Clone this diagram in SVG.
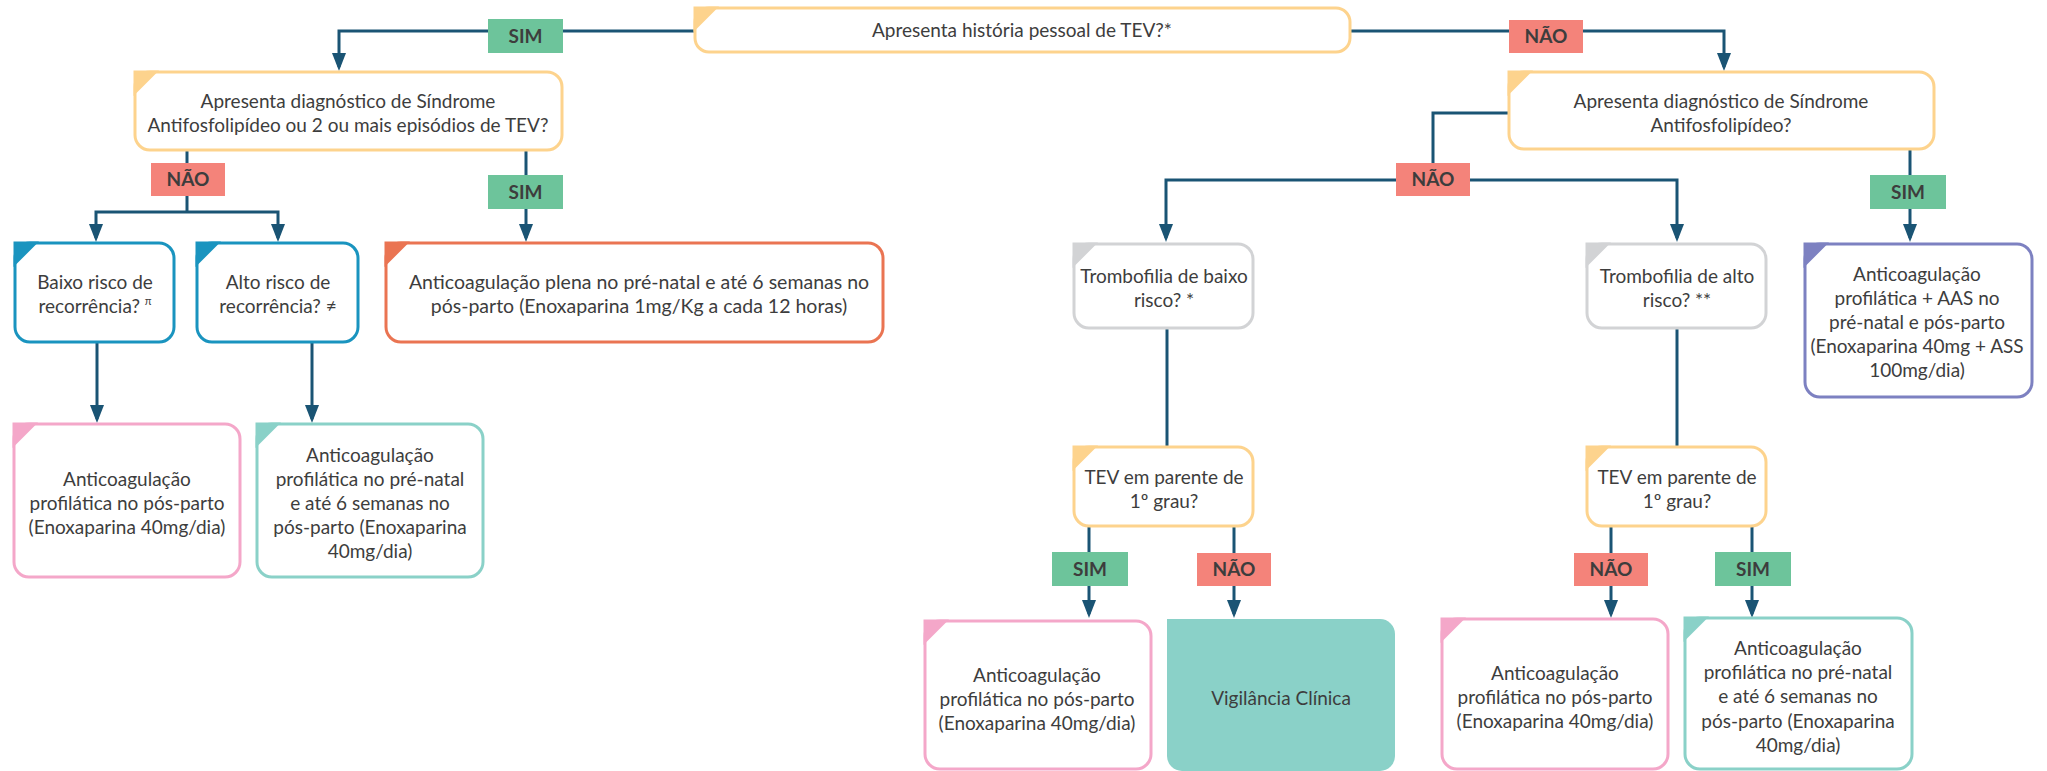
<svg xmlns="http://www.w3.org/2000/svg" width="2047" height="771" viewBox="0 0 2047 771">
<defs>
<style>
.box{fill:#fff;stroke-width:3}
.y{stroke:#FDD38D}.yf{fill:#FDD38D}
.b{stroke:#1A94BF}.bf{fill:#1A94BF}
.o{stroke:#EA7452}.of{fill:#EA7452}
.p{stroke:#F4A7C9}.pf{fill:#F4A7C9}
.t{stroke:#8AD1C8}.tf{fill:#8AD1C8}
.g{stroke:#D2D3D5}.gf{fill:#D2D3D5}
.v{stroke:#7D81C1}.vf{fill:#7D81C1}
text{font-family:Lato,"Open Sans","Liberation Sans",sans-serif;font-size:19px;fill:#3D3D3D;text-anchor:middle}
.lbl text{font-weight:bold;font-size:19px}
.sim{fill:#6DC49B}.nao{fill:#F4837A}
.con{fill:none;stroke:#1A5474;stroke-width:3}
</style>
<marker id="arr" viewBox="0 0 18 14" refX="14" refY="7" markerWidth="18" markerHeight="14" markerUnits="userSpaceOnUse" orient="auto">
<path d="M0,0 L18,7 L0,14 Z" fill="#1A5474"/>
</marker>
</defs>

<g id="connectors">
<path class="con" d="M695,31 H339 V67" marker-end="url(#arr)"/>
<path class="con" d="M1350,31 H1724 V67" marker-end="url(#arr)"/>
<path class="con" d="M187,150 V212"/>
<path class="con" d="M187,212 H96 V238" marker-end="url(#arr)"/>
<path class="con" d="M187,212 H278 V238" marker-end="url(#arr)"/>
<path class="con" d="M526,150 V238" marker-end="url(#arr)"/>
<path class="con" d="M1509,113 H1433 V180"/>
<path class="con" d="M1433,180 H1166 V238" marker-end="url(#arr)"/>
<path class="con" d="M1433,180 H1677 V238" marker-end="url(#arr)"/>
<path class="con" d="M1910,150 V238" marker-end="url(#arr)"/>
<path class="con" d="M97,342 V419" marker-end="url(#arr)"/>
<path class="con" d="M312,342 V419" marker-end="url(#arr)"/>
<path class="con" d="M1167,328 V447"/>
<path class="con" d="M1677,328 V447"/>
<path class="con" d="M1089,526 V614" marker-end="url(#arr)"/>
<path class="con" d="M1234,526 V614" marker-end="url(#arr)"/>
<path class="con" d="M1611,526 V614" marker-end="url(#arr)"/>
<path class="con" d="M1752,526 V614" marker-end="url(#arr)"/>
</g>

<g id="labels" class="lbl">
<rect class="sim" x="488" y="19" width="75" height="34"/><text x="525.5" y="43">SIM</text>
<rect class="nao" x="1509" y="20" width="74" height="33"/><text x="1546" y="43">NÃO</text>
<rect class="nao" x="151" y="163" width="74" height="33"/><text x="188" y="186">NÃO</text>
<rect class="sim" x="488" y="175" width="75" height="34"/><text x="525.5" y="199">SIM</text>
<rect class="nao" x="1396" y="163" width="74" height="33"/><text x="1433" y="186">NÃO</text>
<rect class="sim" x="1870" y="175" width="76" height="34"/><text x="1908" y="199">SIM</text>
<rect class="sim" x="1052" y="552" width="76" height="34"/><text x="1090" y="576">SIM</text>
<rect class="nao" x="1197" y="553" width="74" height="33"/><text x="1234" y="576">NÃO</text>
<rect class="nao" x="1574" y="553" width="74" height="33"/><text x="1611" y="576">NÃO</text>
<rect class="sim" x="1715" y="552" width="76" height="34"/><text x="1753" y="576">SIM</text>
</g>

<g id="n-top">
<rect class="box y" x="695" y="8" width="655" height="44" rx="14"/>
<path class="yf" d="M693.5,6.5 H719 L693.5,32 Z"/>
<text x="1022" y="37">Apresenta história pessoal de TEV?*</text>
</g>

<g id="n-saf-left">
<rect class="box y" x="135" y="72" width="427" height="78" rx="15"/>
<path class="yf" d="M133.5,70.5 H159 L133.5,96 Z"/>
<text x="348" y="108">Apresenta diagnóstico de Síndrome</text>
<text x="348" y="132">Antifosfolipídeo ou 2 ou mais episódios de TEV?</text>
</g>

<g id="n-saf-right">
<rect class="box y" x="1509" y="72" width="425" height="77" rx="15"/>
<path class="yf" d="M1507.5,70.5 H1533 L1507.5,96 Z"/>
<text x="1721" y="108">Apresenta diagnóstico de Síndrome</text>
<text x="1721" y="132">Antifosfolipídeo?</text>
</g>

<g id="n-baixo">
<rect class="box b" x="15" y="243" width="159" height="99" rx="15"/>
<path class="bf" d="M13.5,241.5 H39 L13.5,267 Z"/>
<text x="95" y="289">Baixo risco de</text>
<text x="95" y="313">recorrência? <tspan font-size="11" dy="-8">π</tspan></text>
</g>

<g id="n-alto">
<rect class="box b" x="197" y="243" width="161" height="99" rx="15"/>
<path class="bf" d="M195.5,241.5 H221 L195.5,267 Z"/>
<text x="278" y="289">Alto risco de</text>
<text x="278" y="313">recorrência? ≠</text>
</g>

<g id="n-plena">
<rect class="box o" x="386" y="243" width="497" height="99" rx="15"/>
<path class="of" d="M384.5,241.5 H410 L384.5,267 Z"/>
<text x="639" y="289" style="font-size:19.5px">Anticoagulação plena no pré-natal e até 6 semanas no</text>
<text x="639" y="313" style="font-size:19.5px">pós-parto (Enoxaparina 1mg/Kg a cada 12 horas)</text>
</g>

<g id="n-tromb-baixo">
<rect class="box g" x="1074" y="244" width="179" height="84" rx="15"/>
<path class="gf" d="M1072.5,242.5 H1098 L1072.5,268 Z"/>
<text x="1164" y="283">Trombofilia de baixo</text>
<text x="1164" y="307">risco? *</text>
</g>

<g id="n-tromb-alto">
<rect class="box g" x="1587" y="244" width="179" height="84" rx="15"/>
<path class="gf" d="M1585.5,242.5 H1611 L1585.5,268 Z"/>
<text x="1677" y="283">Trombofilia de alto</text>
<text x="1677" y="307">risco? **</text>
</g>

<g id="n-aas">
<rect class="box v" x="1805" y="244" width="227" height="153" rx="15"/>
<path class="vf" d="M1803.5,242.5 H1829 L1803.5,268 Z"/>
<text x="1917" y="281">Anticoagulação</text>
<text x="1917" y="305">profilática + AAS no</text>
<text x="1917" y="329">pré-natal e pós-parto</text>
<text x="1917" y="353">(Enoxaparina 40mg + ASS</text>
<text x="1917" y="377">100mg/dia)</text>
</g>

<g id="n-pos-left">
<rect class="box p" x="14" y="424" width="226" height="153" rx="15"/>
<path class="pf" d="M12.5,422.5 H38 L12.5,448 Z"/>
<text x="127" y="486">Anticoagulação</text>
<text x="127" y="510">profilática no pós-parto</text>
<text x="127" y="534">(Enoxaparina 40mg/dia)</text>
</g>

<g id="n-pre-left">
<rect class="box t" x="257" y="424" width="226" height="153" rx="15"/>
<path class="tf" d="M255.5,422.5 H281 L255.5,448 Z"/>
<text x="370" y="462">Anticoagulação</text>
<text x="370" y="486">profilática no pré-natal</text>
<text x="370" y="510">e até 6 semanas no</text>
<text x="370" y="534">pós-parto (Enoxaparina</text>
<text x="370" y="558">40mg/dia)</text>
</g>

<g id="n-tev-left">
<rect class="box y" x="1074" y="447" width="179" height="79" rx="15"/>
<path class="yf" d="M1072.5,445.5 H1098 L1072.5,471 Z"/>
<text x="1164" y="484">TEV em parente de</text>
<text x="1164" y="508">1º grau?</text>
</g>

<g id="n-tev-right">
<rect class="box y" x="1587" y="447" width="179" height="79" rx="15"/>
<path class="yf" d="M1585.5,445.5 H1611 L1585.5,471 Z"/>
<text x="1677" y="484">TEV em parente de</text>
<text x="1677" y="508">1º grau?</text>
</g>

<g id="n-pos-mid">
<rect class="box p" x="925" y="621" width="226" height="148" rx="15"/>
<path class="pf" d="M923.5,619.5 H949 L923.5,645 Z"/>
<text x="1037" y="682">Anticoagulação</text>
<text x="1037" y="706">profilática no pós-parto</text>
<text x="1037" y="730">(Enoxaparina 40mg/dia)</text>
</g>

<g id="n-vigilancia">
<rect class="tf" x="1167" y="619" width="228" height="152" rx="15"/>
<rect class="tf" x="1167" y="619" width="30" height="30"/>
<text x="1281" y="705">Vigilância Clínica</text>
</g>

<g id="n-pos-right">
<rect class="box p" x="1442" y="619" width="226" height="150" rx="15"/>
<path class="pf" d="M1440.5,617.5 H1466 L1440.5,643 Z"/>
<text x="1555" y="680">Anticoagulação</text>
<text x="1555" y="704">profilática no pós-parto</text>
<text x="1555" y="728">(Enoxaparina 40mg/dia)</text>
</g>

<g id="n-pre-right">
<rect class="box t" x="1685" y="618" width="227" height="151" rx="15"/>
<path class="tf" d="M1683.5,616.5 H1709 L1683.5,642 Z"/>
<text x="1798" y="655">Anticoagulação</text>
<text x="1798" y="679">profilática no pré-natal</text>
<text x="1798" y="703">e até 6 semanas no</text>
<text x="1798" y="728">pós-parto (Enoxaparina</text>
<text x="1798" y="752">40mg/dia)</text>
</g>
</svg>
